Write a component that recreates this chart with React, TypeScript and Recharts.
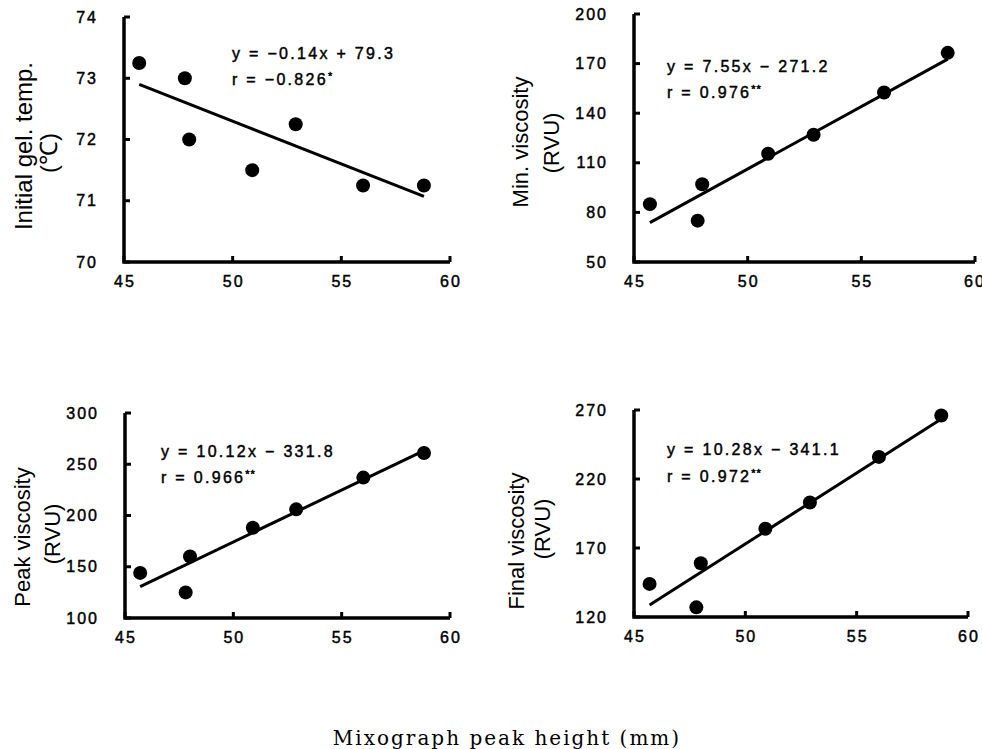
import React from 'react';
import { ScatterChart, Scatter, XAxis, YAxis } from 'recharts';

// ---- data ----
const mixograph = [45.7, 47.8, 48.0, 50.9, 52.9, 56.0, 58.8];
const gelTemp = [73.25, 73.0, 72.0, 71.5, 72.25, 71.25, 71.25];
const minVisc = [85, 75, 97, 115.5, 127, 152.5, 176.5];
const peakVisc = [144, 125, 160, 188, 206, 237, 261];
const finalVisc = [144, 127, 159, 184, 203, 236, 266];

const fitX = [45.7, 58.8];
const gelFit = [72.9, 71.07];
const minFit = [73.8, 172.7];
const peakFit = [130.7, 263.3];
const finalFit = [128.7, 263.4];

const xTicks = [45, 50, 55, 60];
const gelTicks = [70, 71, 72, 73, 74];
const minTicks = [50, 80, 110, 140, 170, 200];
const peakTicks = [100, 150, 200, 250, 300];
const finalTicks = [120, 170, 220, 270];

const toPts = (xs: number[], ys: number[]) => xs.map((x, i) => ({ x, y: ys[i] }));

const NUM_FONT = "'Liberation Sans', Arial, sans-serif";
const LABEL_FONT = "'Liberation Sans', Arial, sans-serif";
const Y_GAP = 26;
const X_GAP = 14;

const YTick = (props: any) => (
  <text x={props.x} y={props.y} textAnchor="end" dominantBaseline="central" fontFamily={NUM_FONT} fontSize={16}
    letterSpacing={2} fill="#000" stroke="#000" strokeWidth={0.45}>
    {props.payload.value}
  </text>
);

const XTick = (props: any) => (
  <text x={Number(props.x) + 1} y={props.y} dy="0.71em" textAnchor="middle" fontFamily={NUM_FONT} fontSize={16}
    letterSpacing={2} fill="#000" stroke="#000" strokeWidth={0.45}>
    {props.payload.value}
  </text>
);

const Dot = (props: any) => <circle cx={props.cx} cy={props.cy} r={7} fill="#000" />;
const NoDot = () => <g />;
const YStub = (props: any) => (
  <line x1={props.cx} x2={props.cx + 6} y1={props.cy} y2={props.cy} stroke="#000" strokeWidth={3} />
);
const XStub = (props: any) => (
  <line x1={props.cx} x2={props.cx} y1={props.cy} y2={props.cy - 6} stroke="#000" strokeWidth={3} />
);

type PanelProps = {
  left: number; top: number; width: number; height: number;
  margin: { top: number; right: number; left: number; bottom: number };
  yWidth: number; xHeight: number;
  yDomain: [number, number]; yTicks: number[];
  pts: { x: number; y: number }[]; fit: { x: number; y: number }[];
};

const Panel = ({ left, top, width, height, margin, yWidth, xHeight, yDomain, yTicks, pts, fit }: PanelProps) => {
  const x0 = xTicks[0];
  const x1 = xTicks[xTicks.length - 1];
  const frame = [{ x: x0, y: yDomain[1] }, { x: x0, y: yDomain[0] }, { x: x1, y: yDomain[0] }];
  const yStubs = yTicks.map((v) => ({ x: x0, y: v }));
  const xStubs = xTicks.map((v) => ({ x: v, y: yDomain[0] }));
  return (
    <div style={{ position: 'absolute', left, top, width, height }}>
      <ScatterChart width={width} height={height} margin={margin}>
        <XAxis
          type="number" dataKey="x" domain={[x0, x1]} ticks={xTicks} height={xHeight}
          axisLine={false} tickLine={false} tickSize={0} tickMargin={X_GAP}
          tick={(p: any) => <XTick {...p} />}
        />
        <YAxis
          type="number" dataKey="y" domain={yDomain} ticks={yTicks} width={yWidth}
          axisLine={false} tickLine={false} tickSize={0} tickMargin={Y_GAP}
          tick={(p: any) => <YTick {...p} />}
        />
        <Scatter data={frame} shape={<NoDot />} line={{ stroke: '#000', strokeWidth: 3.5 }} isAnimationActive={false} />
        <Scatter data={yStubs} shape={<YStub />} isAnimationActive={false} />
        <Scatter data={xStubs} shape={<XStub />} isAnimationActive={false} />
        <Scatter data={fit} shape={<NoDot />} line={{ stroke: '#000', strokeWidth: 3 }} isAnimationActive={false} />
        <Scatter data={pts} shape={<Dot />} isAnimationActive={false} />
      </ScatterChart>
    </div>
  );
};

const VLabel = ({ cx, cy, size, children }: any) => (
  <div
    style={{
      position: 'absolute', left: cx, top: cy, transform: 'translate(-50%,-50%) rotate(-90deg)',
      whiteSpace: 'nowrap', fontFamily: LABEL_FONT, fontSize: size, lineHeight: 1, color: '#000',
      pointerEvents: 'none',
    }}
  >
    {children}
  </div>
);

const Eq = ({ left, cy, children }: any) => (
  <div
    style={{
      position: 'absolute', left, top: cy - 9, height: 18, lineHeight: '18px', whiteSpace: 'nowrap',
      fontFamily: NUM_FONT, fontSize: 16, letterSpacing: 2.3, color: '#000',
      WebkitTextStroke: '0.45px #000',
    } as any}
  >
    {children}
  </div>
);

const Sup = ({ children }: any) => (
  <span style={{ fontSize: 11, position: 'relative', top: -5, letterSpacing: 1 }}>{children}</span>
);

export default function App() {
  return (
    <div style={{ position: 'absolute', left: 0, top: 0, width: 982, height: 749, background: '#fff', overflow: 'hidden' }}>
      <Panel left={0} top={0} width={480} height={300} margin={{ top: 17, right: 30, left: 0, bottom: 0 }}
        yWidth={124} xHeight={38} yDomain={[70, 74]} yTicks={gelTicks}
        pts={toPts(mixograph, gelTemp)} fit={toPts(fitX, gelFit)} />
      <Panel left={480} top={0} width={502} height={300} margin={{ top: 14, right: 7, left: 0, bottom: 0 }}
        yWidth={154} xHeight={38} yDomain={[50, 200]} yTicks={minTicks}
        pts={toPts(mixograph, minVisc)} fit={toPts(fitX, minFit)} />
      <Panel left={0} top={370} width={480} height={300} margin={{ top: 43, right: 30, left: 0, bottom: 0 }}
        yWidth={125} xHeight={52} yDomain={[100, 300]} yTicks={peakTicks}
        pts={toPts(mixograph, peakVisc)} fit={toPts(fitX, peakFit)} />
      <Panel left={480} top={370} width={502} height={300} margin={{ top: 40, right: 14, left: 0, bottom: 0 }}
        yWidth={154} xHeight={53} yDomain={[120, 270]} yTicks={finalTicks}
        pts={toPts(mixograph, finalVisc)} fit={toPts(fitX, finalFit)} />

      <VLabel cx={24} cy={146} size={24}>Initial gel. temp.</VLabel>
      <VLabel cx={49} cy={153} size={24}>(℃)</VLabel>
      <VLabel cx={521} cy={142} size={22}>Min. viscosity</VLabel>
      <VLabel cx={552} cy={143} size={22}>(RVU)</VLabel>
      <VLabel cx={23} cy={537} size={22}>Peak viscosity</VLabel>
      <VLabel cx={53} cy={534} size={22}>(RVU)</VLabel>
      <VLabel cx={517} cy={541} size={22}>Final viscosity</VLabel>
      <VLabel cx={543} cy={529} size={22}>(RVU)</VLabel>

      <Eq left={232} cy={54}>y = −0.14x + 79.3</Eq>
      <Eq left={232} cy={80}>r = −0.826<Sup>*</Sup></Eq>
      <Eq left={667} cy={67}>y = 7.55x − 271.2</Eq>
      <Eq left={667} cy={93}>r = 0.976<Sup>**</Sup></Eq>
      <Eq left={161} cy={452}>y = 10.12x − 331.8</Eq>
      <Eq left={161} cy={478}>r = 0.966<Sup>**</Sup></Eq>
      <Eq left={667} cy={450}>y = 10.28x − 341.1</Eq>
      <Eq left={667} cy={477}>r = 0.972<Sup>**</Sup></Eq>

      <div style={{
        position: 'absolute', left: 507, top: 738, transform: 'translate(-50%,-50%)', whiteSpace: 'nowrap',
        fontFamily: "'DejaVu Serif', serif", fontSize: 20, letterSpacing: 2, lineHeight: 1, color: '#000',
      }}>
        Mixograph peak height (mm)
      </div>
    </div>
  );
}
